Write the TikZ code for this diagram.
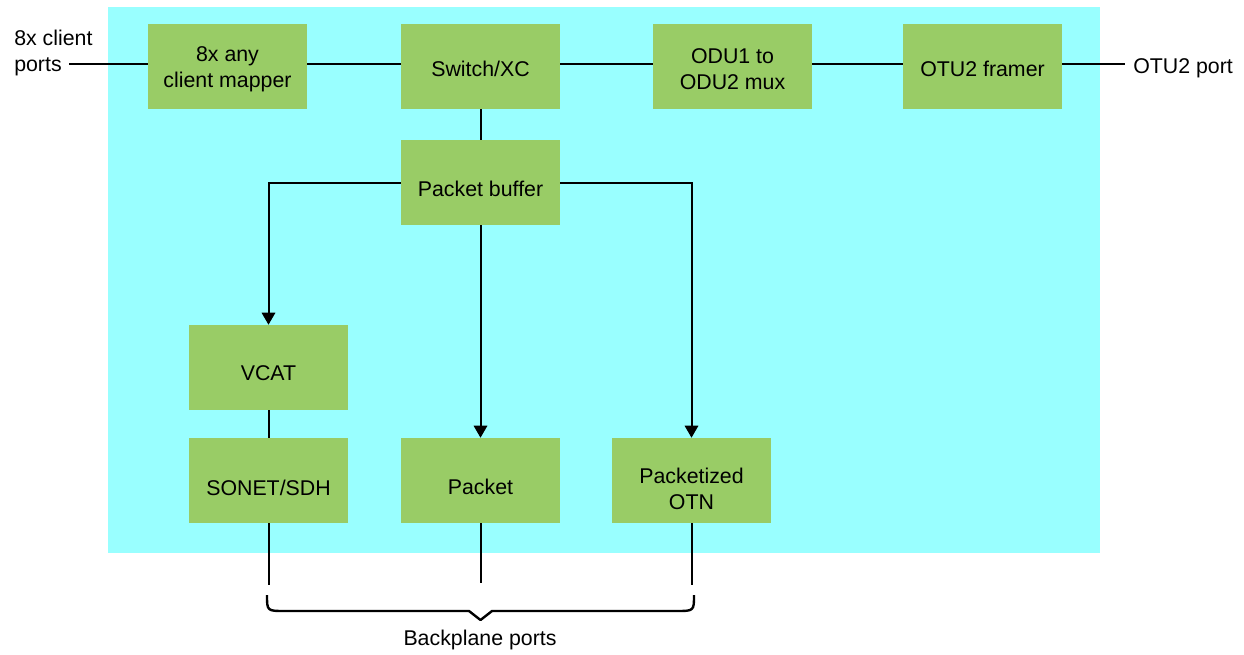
\documentclass[tikz,border=0pt]{standalone}
\usepackage{fontspec}
\setmainfont{Liberation Sans}
\usetikzlibrary{arrows.meta}
\definecolor{bgcyan}{RGB}{153,255,255}
\definecolor{boxgreen}{RGB}{153,204,102}
\begin{document}
\begin{tikzpicture}[x=0.75pt,y=-0.75pt,
 blk/.style={fill=boxgreen, minimum width=119.25pt, minimum height=63.75pt, inner sep=0pt},
 txt/.style={inner sep=0pt, align=center, font=\fontsize{16}{19.5}\selectfont},
 lbl/.style={font=\fontsize{16}{19}\selectfont, inner sep=0pt},
 conn/.style={line width=1.5pt},
 arr/.style={conn, -{Triangle[width=10pt,length=9pt]}},
 bracestyle/.style={line width=1.8pt, line join=round}]
\useasboundingbox (0,0) rectangle (1244,654);
\fill[bgcyan] (108,7) rectangle (1100,553);
\node[blk, label={[txt,yshift=-2.25pt]center:{8x any\\client mapper}}] (map) at (227.5,66.5) {};
\node[blk, label={[txt,yshift=-1.8pt]center:{Switch/XC}}] (sw) at (480.5,66.5) {};
\node[blk, label={[txt,yshift=-2.25pt]center:{ODU1 to\\ODU2 mux}}] (odu) at (732.5,66.5) {};
\node[blk, label={[txt,yshift=-1.8pt]center:{OTU2 framer}}] (fr) at (982.5,66.5) {};
\node[blk, label={[txt,yshift=-4.5pt]center:{Packet buffer}}] (pb) at (480.5,182.5) {};
\node[blk, label={[txt,yshift=-4.5pt]center:{VCAT}}] (vcat) at (268.5,367.5) {};
\node[blk, label={[txt,yshift=-5.5pt]center:{SONET/SDH}}] (sonet) at (268.5,480.5) {};
\node[blk, label={[txt,yshift=-5pt]center:{Packet}}] (pkt) at (480.5,480.5) {};
\node[blk, label={[txt,yshift=-6pt]center:{Packetized\\OTN}}] (potn) at (691.5,480.5) {};
\node[lbl, align=left, anchor=north west] (cp) at (14,30) {8x client\\ports};
\coordinate (cpe) at (69,64);
\node[lbl, anchor=west] (otu) at (1133,68) {OTU2 port};
\coordinate (otue) at (1125,64);
\draw[conn] (cpe) -- (map.west |- cpe);
\draw[conn] ([yshift=1.9pt]map.east) -- ([yshift=1.9pt]sw.west);
\draw[conn] ([yshift=1.9pt]sw.east) -- ([yshift=1.9pt]odu.west);
\draw[conn] ([yshift=1.9pt]odu.east) -- ([yshift=1.9pt]fr.west);
\draw[conn] (fr.east |- otue) -- (otue);
\draw[conn] (sw) -- (pb);
\draw[arr] (pb.west) -| (vcat.north);
\draw[arr] (pb) -- (pkt);
\draw[arr] (pb.east) -| (potn.north);
\draw[conn] (vcat) -- (sonet);
\coordinate (b1) at (268.5,585);
\coordinate (b2) at (480.5,583);
\coordinate (b3) at (691.5,585);
\draw[conn] (sonet) -- (b1);
\draw[conn] (pkt) -- (b2);
\draw[conn] (potn) -- (b3);
\coordinate (bl) at (267,595);
\coordinate (br) at (694,595);
\coordinate (bt) at (480.5,620);
\draw[bracestyle] (bl) .. controls (267,611) .. (285,611) -- (469,611) -- (bt) -- (492,611) -- (676,611) .. controls (694,611) .. (br);
\node[lbl] (bp) at (480,640) {Backplane ports};
\end{tikzpicture}
\end{document}
